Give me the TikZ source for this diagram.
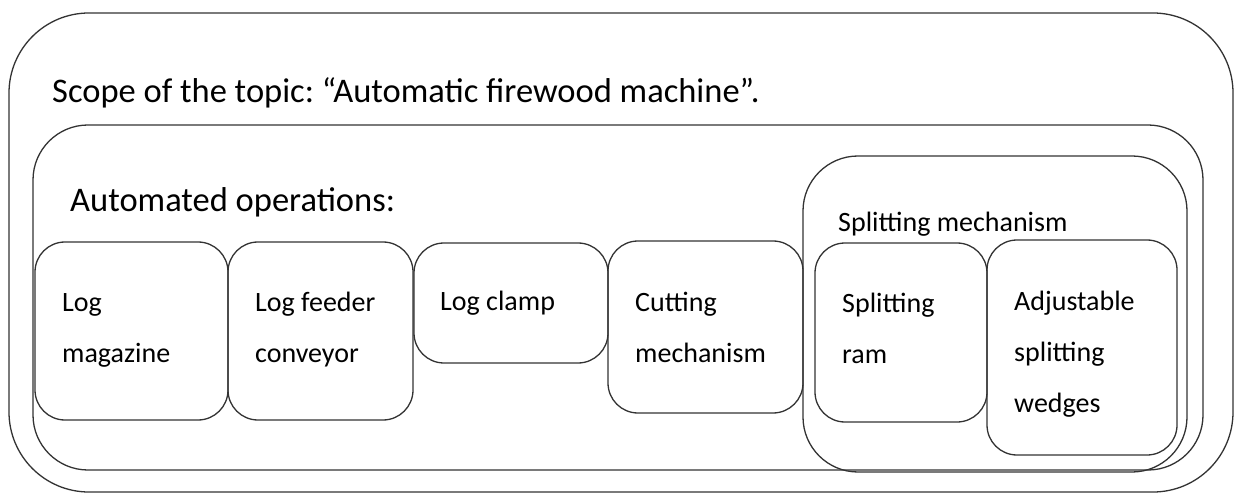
\documentclass[tikz,border=0pt]{standalone}
\usepackage{fontspec}
\setmainfont{Carlito}
\usepackage{tikz}

\begin{document}
\frenchspacing
\begin{tikzpicture}[x=1pt,y=-1pt,
  box/.style={shape=rectangle,draw=black!80,line width=1.3pt,inner sep=0pt},
  bigtext/.style={anchor=base west,inner sep=0pt,font=\fontsize{34.5}{40}\selectfont},
  smalltext/.style={anchor=base west,inner sep=0pt,align=left,font=\fontsize{28}{51}\selectfont}]
\useasboundingbox (0,0) rectangle (1234,494);
% frames
\node[box,rounded corners=80pt,minimum width=1224pt,minimum height=479pt] (scope) at (621,252.5) {};
\node[box,rounded corners=55pt,minimum width=1170pt,minimum height=345pt] (ops) at (618,297.5) {};
\node[box,rounded corners=55pt,minimum width=384pt,minimum height=316pt] (split) at (995,314) {};
% operations
\node[box,rounded corners=30pt,minimum width=193pt,minimum height=178pt] (mag) at (131.5,331) {};
\node[box,rounded corners=30pt,minimum width=185pt,minimum height=178pt] (feeder) at (320.5,331) {};
\node[box,rounded corners=30pt,minimum width=194pt,minimum height=120pt] (clamp) at (511,303) {};
\node[box,rounded corners=30pt,minimum width=195pt,minimum height=172pt] (cut) at (705.5,327) {};
\node[box,rounded corners=30pt,minimum width=172pt,minimum height=179pt] (ram) at (901,332.5) {};
\node[box,rounded corners=30pt,minimum width=190pt,minimum height=215pt] (wedges) at (1082,347.5) {};
% labels (base = last line)
\node[bigtext] (scopelabel) at (52,103) {Scope of the topic: “Automatic firewood machine”.};
\node[bigtext] (opslabel) at (70,212) {Automated operations:};
\node[smalltext] (splitlabel) at (838,232) {Splitting mechanism};
\node[smalltext] (maglabel) at (62,362) {Log\\magazine};
\node[smalltext] (feederlabel) at (255,362) {Log feeder\\conveyor};
\node[smalltext] (clamplabel) at (440,310) {Log clamp};
\node[smalltext] (cutlabel) at (635,362) {Cutting\\mechanism};
\node[smalltext] (ramlabel) at (842,363) {Splitting\\ram};
\node[smalltext] (wedgeslabel) at (1014,412) {Adjustable\\splitting\\wedges};
\end{tikzpicture}
\end{document}
